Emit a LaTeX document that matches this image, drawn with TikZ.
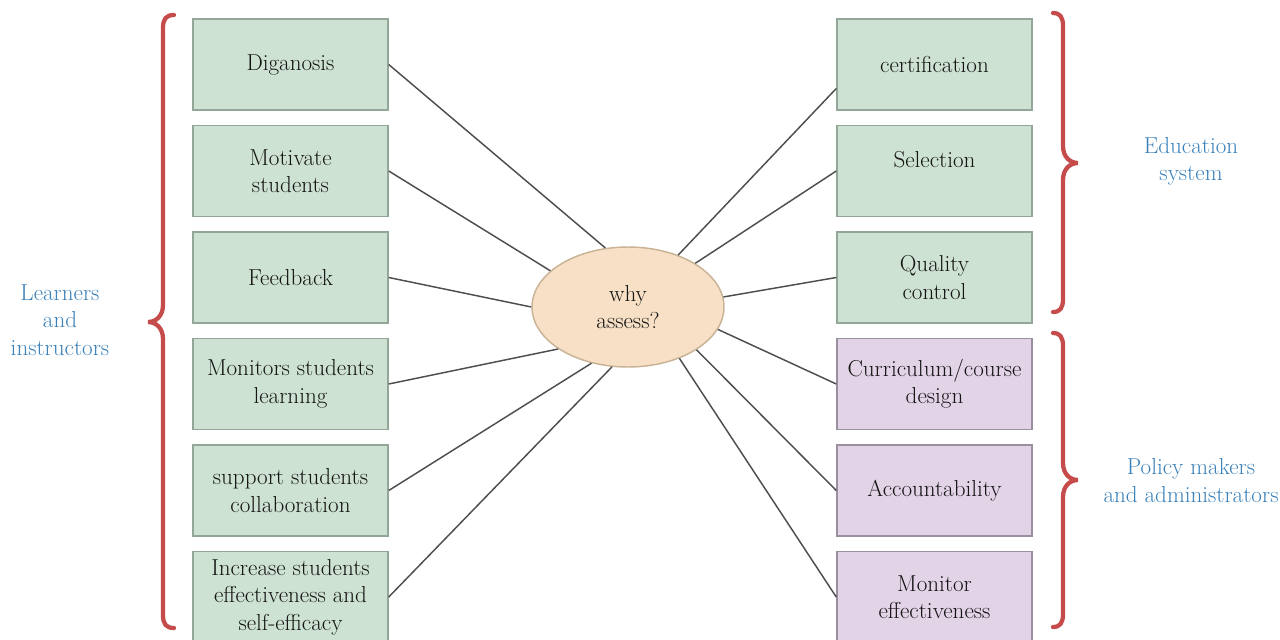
\documentclass[tikz,border=0pt]{standalone}
\usetikzlibrary{calc,shapes.geometric}
\definecolor{boxgreen}{HTML}{CDE2D2}
\definecolor{greenline}{HTML}{93A798}
\definecolor{boxpurple}{HTML}{E2D3E7}
\definecolor{purpleline}{HTML}{9A8F9F}
\definecolor{ellfill}{HTML}{F7E0C5}
\definecolor{ellline}{HTML}{C9B396}
\definecolor{bracered}{HTML}{C64C4C}
\definecolor{labelblue}{HTML}{3A80B8}
\definecolor{textdark}{HTML}{141414}
\definecolor{linegray}{HTML}{4E4E4E}
\begin{document}
\begin{tikzpicture}[x=0.75pt,y=-0.75pt,
  boxbase/.style={line width=1.1pt, minimum width=146.25pt, minimum height=68.25pt,
    inner sep=0pt, align=center, font=\fontsize{17.3}{20.5}\selectfont, text=textdark},
  gbox/.style={boxbase, draw=greenline, fill=boxgreen},
  pbox/.style={boxbase, draw=purpleline, fill=boxpurple},
  grouplabel/.style={align=center, font=\fontsize{17.3}{20.5}\selectfont, text=labelblue},
  conn/.style={draw=linegray, line width=1.1pt},
  bracepath/.style={draw=bracered, line width=3.2pt, line cap=round}
]
\useasboundingbox (0,0) rectangle (1280,639);
\clip (0,0) rectangle (1280,639);

% left boxes
\node[gbox] (l1) at (290.5,64.5) {Diganosis};
\node[gbox] (l2) at (290.5,171) {Motivate\\students};
\node[gbox] (l3) at (290.5,277.5) {Feedback};
\node[gbox] (l4) at (290.5,384) {Monitors students\\learning};
\node[gbox] (l5) at (290.5,490.5) {support students\\collaboration};
\node[gbox] (l6) at (290.5,597) {Increase students\\effectiveness and\\self-efficacy};

% right boxes
\node[gbox] (r1) at (934.5,64.5) {certification};
\node[gbox] (r2) at (934.5,171) {\raisebox{6pt}[8pt][2pt]{Selection}};
\node[gbox] (r3) at (934.5,277.5) {Quality\\control};
\node[pbox] (r4) at (934.5,384) {Curriculum/course\\design};
\node[pbox] (r5) at (934.5,490.5) {Accountability};
\node[pbox] (r6) at (934.5,597) {Monitor\\effectiveness};

% centre
\node[ellipse, draw=ellline, fill=ellfill, line width=1.1pt, minimum width=144pt,
  minimum height=90pt, inner sep=0pt, align=center,
  font=\fontsize{17.3}{20.5}\selectfont, text=textdark] (e) at (628,307) {why\\assess?};

% connectors
\draw[conn] (l1.east) -- (e.111);
\draw[conn] (l2.east) -- (e.155);
\draw[conn] (l3.east) -- (e.180.6);
\draw[conn] (l4.east) -- (e.211.7);
\draw[conn] (l5.east) -- (e.237.3);
\draw[conn] (l6.east) -- (e.255);
\draw[conn] ($(r1.west)+(0,24)$) -- (e.46.7);
\draw[conn] (r2.west) -- (e.33.3);
\draw[conn] (r3.west) -- (e.6);
\draw[conn] (r4.west) -- (e.-14);
\draw[conn] (r5.west) -- (e.-32);
\draw[conn] (r6.west) -- (e.-45.5);

% braces
\draw[bracepath] (174,15) .. controls (166,15) and (163,19) .. (163,28) -- (163,305)
  .. controls (163,316) and (156,322) .. (148,322)
  .. controls (156,322) and (163,328) .. (163,339) -- (163,615)
  .. controls (163,624) and (166,628) .. (174,628);
\draw[bracepath] (1053,13) .. controls (1060,13) and (1063,17) .. (1063,26) -- (1063,146)
  .. controls (1063,157) and (1070,163) .. (1078,163)
  .. controls (1070,163) and (1063,169) .. (1063,180) -- (1063,299)
  .. controls (1063,308) and (1060,312) .. (1053,312);
\draw[bracepath] (1053,333) .. controls (1060,333) and (1063,337) .. (1063,346) -- (1063,463)
  .. controls (1063,474) and (1070,480) .. (1078,480)
  .. controls (1070,480) and (1063,486) .. (1063,497) -- (1063,614)
  .. controls (1063,623) and (1060,627) .. (1053,627);

% group labels
\node[grouplabel] (gl) at (60,320) {Learners\\and\\instructors};
\node[grouplabel] (ge) at (1191,161.5) {Education\\system};
\node[grouplabel] (gp) at (1191,480.5) {Policy makers\\and administrators};
\end{tikzpicture}
\end{document}
